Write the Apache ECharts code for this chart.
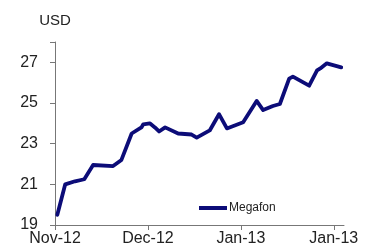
<!DOCTYPE html>
<html>
<head>
<meta charset="utf-8">
<script src="https://cdn.jsdelivr.net/npm/echarts@6/dist/echarts.min.js"></script>
<style>
  html, body { margin: 0; padding: 0; background: #fff; }
  #chart { width: 374px; height: 247px; }
</style>
</head>
<body>
<div id="chart"></div>
<script>
// days counted from the first tick (Nov-12), ticks every 20 days
var days = [0.5, 2.2, 4.3, 6.3, 8.2, 12.5, 14.3, 16.5, 18.6, 19.0, 20.4, 21.5, 22.4, 23.7,
  26.5, 29.4, 30.5, 33.3, 35.3, 37.0, 40.5, 43.4, 44.8, 46.9, 48.4, 50.4, 51.2,
  54.7, 56.4, 57.1, 58.5, 61.6];
var megafon = [19.5, 21.0, 21.15, 21.25, 21.95, 21.9, 22.2, 23.5, 23.8, 23.95, 24.0, 23.8, 23.6, 23.8,
  23.5, 23.45, 23.3, 23.65, 24.45, 23.75, 24.05, 25.1, 24.65, 24.85, 24.95, 26.2, 26.3,
  25.85, 26.6, 26.7, 26.95, 26.75];
var xLabels = ['Nov-12', 'Dec-12', 'Jan-13', 'Jan-13'];
var yTicks = [19, 21, 23, 25, 27];

var chart = echarts.init(document.getElementById('chart'));
var pts = days.map(function(d, i) { return [d, megafon[i]]; });

chart.setOption({
  animation: false,
  textStyle: { fontFamily: 'Liberation Sans, Arial, sans-serif' },
  grid: { left: 55, right: 30, top: 42, bottom: 22 },
  legend: {
    left: 194, top: 197,
    icon: 'rect', itemWidth: 28, itemHeight: 4,
    textStyle: { fontSize: 12, color: '#222', padding: [0, 0, 0, -3] },
    data: ['Megafon']
  },
  xAxis: {
    type: 'value',
    min: 0, max: 62.2, interval: 20,
    splitLine: { show: false },
    axisLine: { lineStyle: { color: '#777', width: 1 } },
    axisTick: { length: 5, lineStyle: { color: '#777' } },
    axisLabel: {
      fontSize: 16, color: '#222', margin: 6, showMaxLabel: false,
      formatter: function(v) { return xLabels[Math.round(v / 20)] || ''; }
    }
  },
  yAxis: {
    type: 'value',
    min: 19, max: 28, interval: 2,
    name: 'USD',
    nameLocation: 'end',
    nameGap: 14,
    nameTextStyle: { fontSize: 15, color: '#222', align: 'center' },
    splitLine: { show: false },
    axisLine: { show: true, lineStyle: { color: '#777', width: 1 } },
    axisTick: { show: true, length: 5, lineStyle: { color: '#777' } },
    axisLabel: {
      fontSize: 16, color: '#222', margin: 17,
      formatter: function(v) { return yTicks.indexOf(v) >= 0 ? v : ''; }
    }
  },
  series: [{
    name: 'Megafon',
    type: 'line',
    data: pts,
    showSymbol: false,
    symbol: 'none',
    lineStyle: { color: '#0c0c78', width: 3.8, join: 'round', cap: 'round' },
    itemStyle: { color: '#0c0c78' }
  }]
});
</script>
</body>
</html>
